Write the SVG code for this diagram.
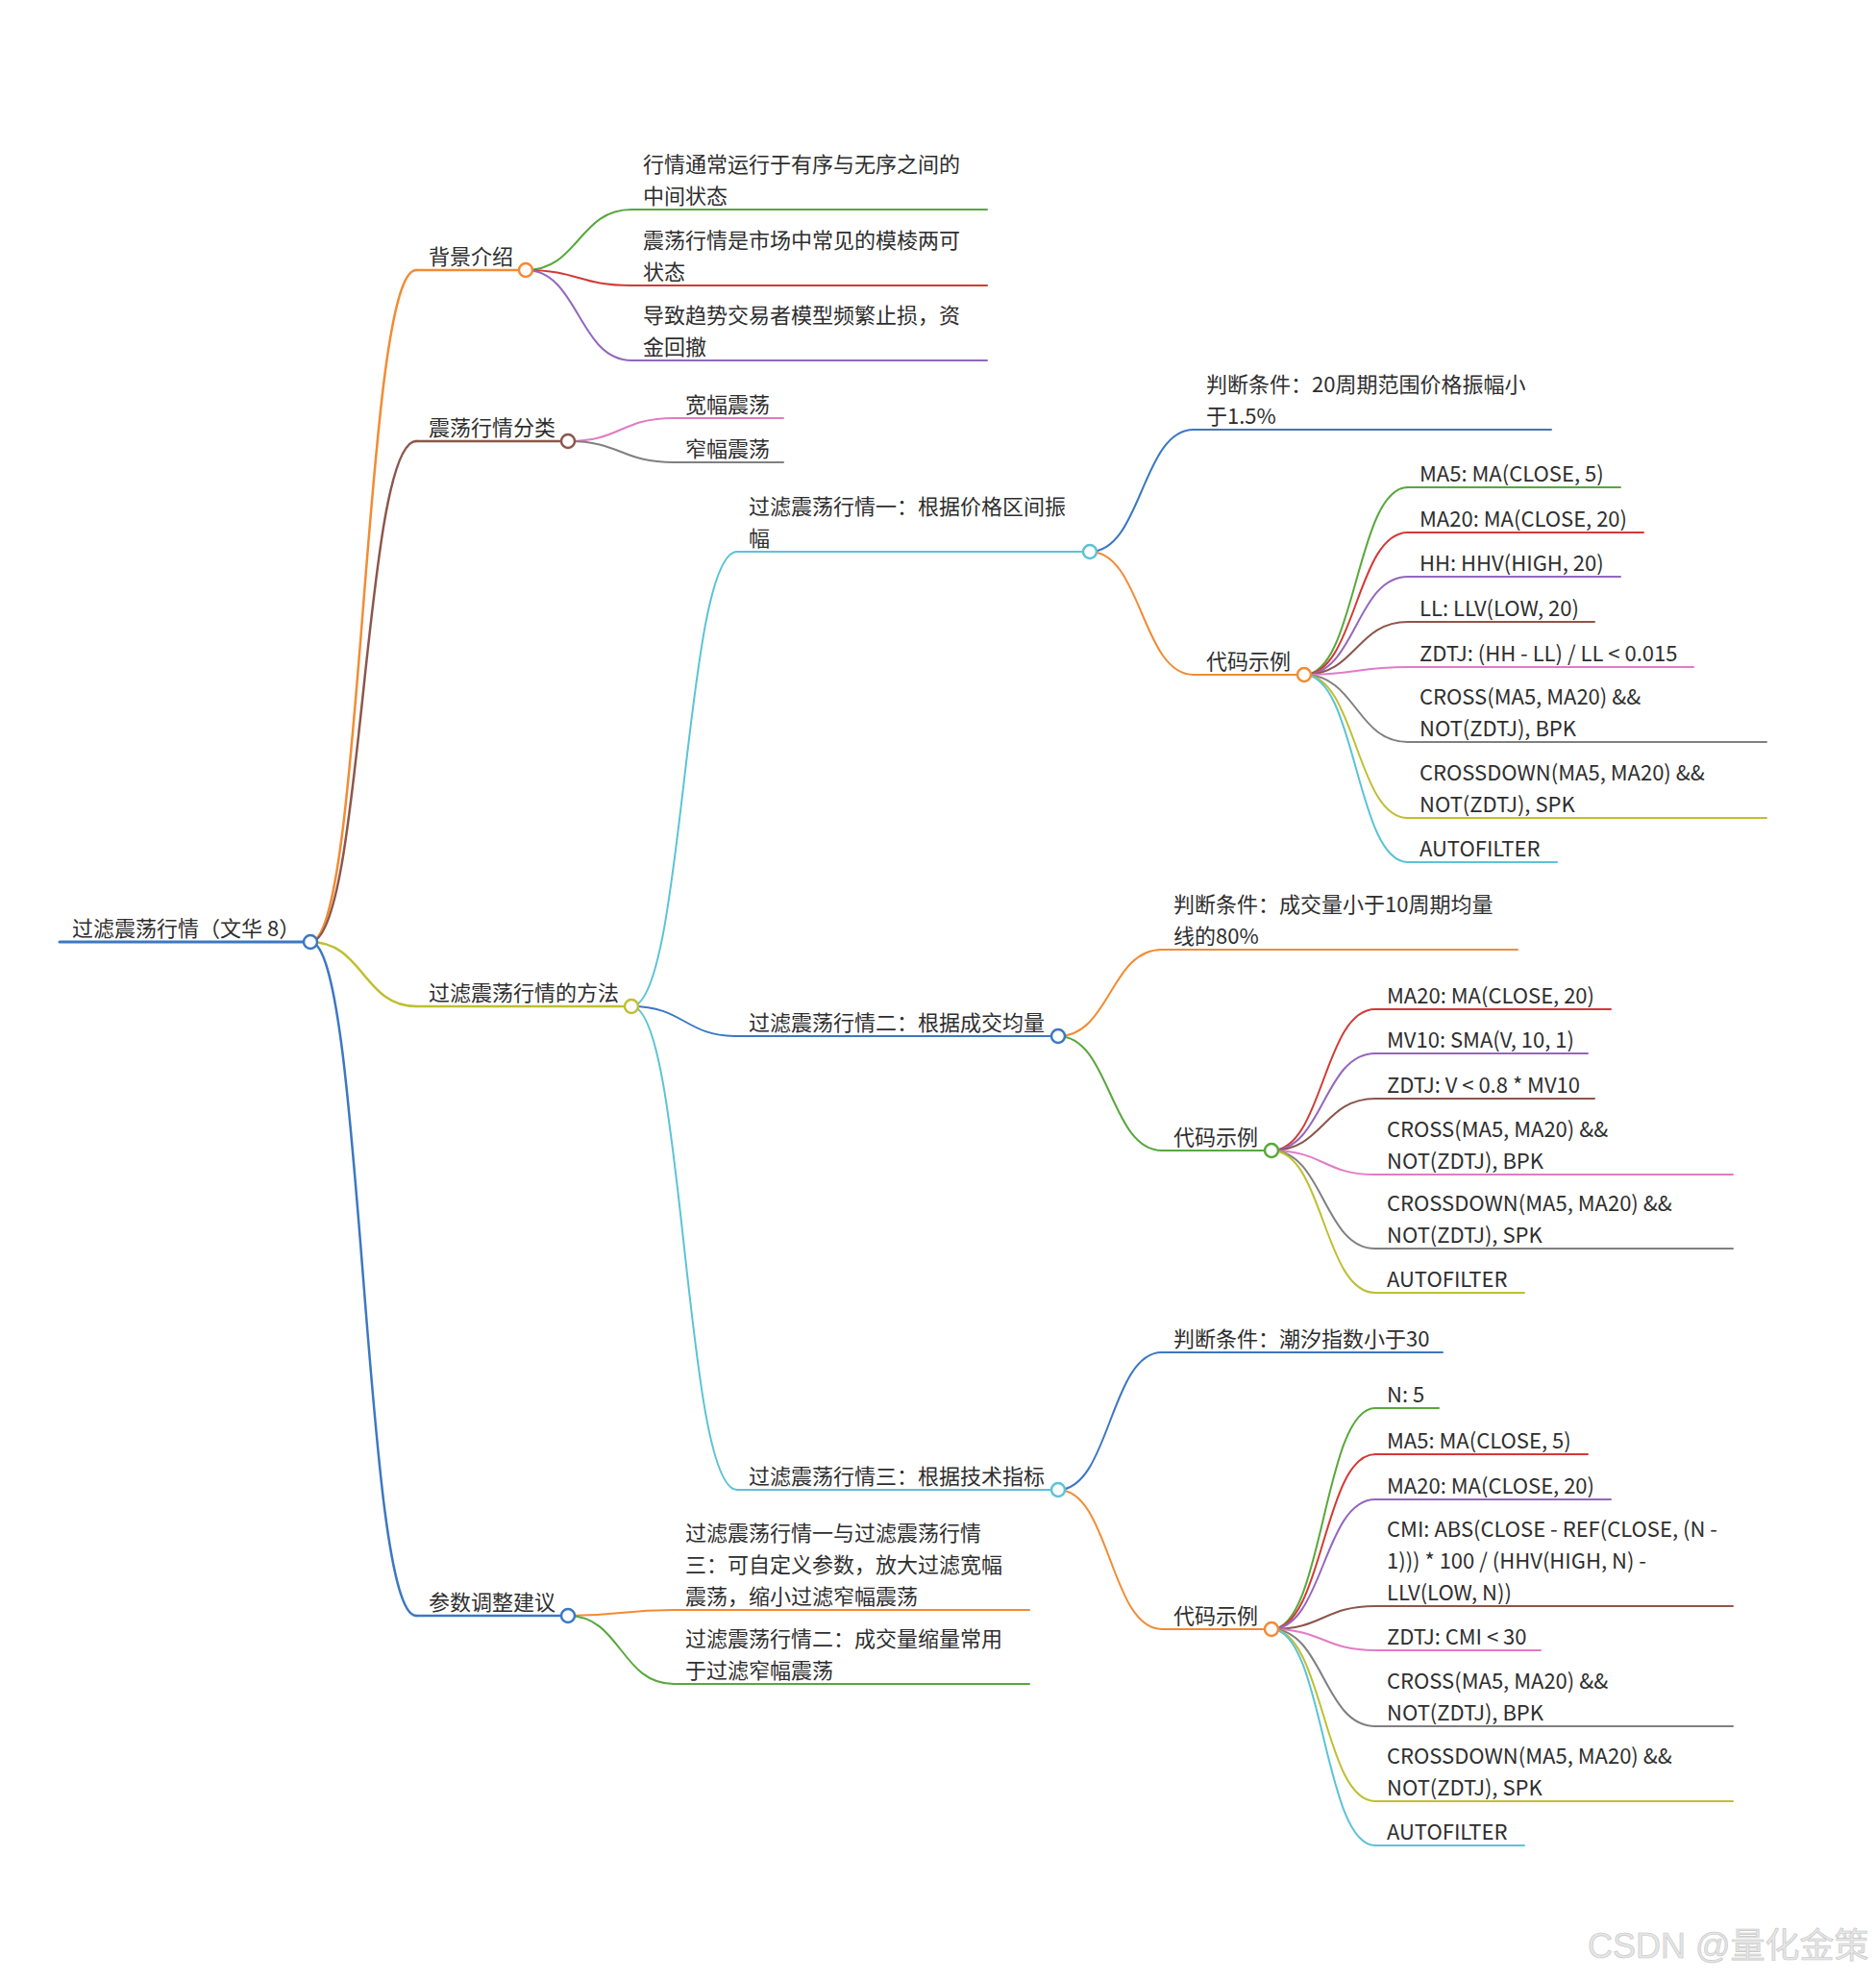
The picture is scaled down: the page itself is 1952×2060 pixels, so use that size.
<svg xmlns="http://www.w3.org/2000/svg" width="1952" height="2060" viewBox="0 0 1952 2060">
<style>
.t{font-family:"Noto Sans CJK SC","Noto Sans",sans-serif;font-size:22px;fill:#2e2e2e}
.u,.l{fill:none;stroke-width:2;stroke-linecap:round}
.l1{stroke-width:2.5}
.dot{fill:#fff;stroke-width:2.5}
.blue{stroke:#3b78c2}.orange{stroke:#f38b32}.green{stroke:#58a83c}.red{stroke:#d33a36}.purple{stroke:#9467bd}
.brown{stroke:#8c564b}.pink{stroke:#e07cc6}.gray{stroke:#808080}.olive{stroke:#bfbf32}.cyan{stroke:#5bc3d6}
.wm{font-family:"Liberation Sans","Noto Sans CJK SC",sans-serif;font-size:36px;fill:#e6e6e6;stroke:#c4c4c4;stroke-width:0.6}
</style>
<rect width="1952" height="2060" fill="#fff"/>
<g id="connectors">
<path class="l l1 orange" d="M323 980C378 980 378 281 433 281"/>
<path class="l l1 brown" d="M323 980C378 980 378 459 433 459"/>
<path class="l l1 olive" d="M323 980C378 980 378 1047 433 1047"/>
<path class="l l1 blue" d="M323 980C378 980 378 1681 433 1681"/>
<path class="l green" d="M547 281C602 281 602 218 657 218"/>
<path class="l red" d="M547 281C602 281 602 297 657 297"/>
<path class="l purple" d="M547 281C602 281 602 375 657 375"/>
<path class="l pink" d="M591 459C646 459 646 435 701 435"/>
<path class="l gray" d="M591 459C646 459 646 481 701 481"/>
<path class="l cyan" d="M657 1047C712 1047 712 574 767 574"/>
<path class="l blue" d="M657 1047C712 1047 712 1078 767 1078"/>
<path class="l cyan" d="M657 1047C712 1047 712 1550 767 1550"/>
<path class="l orange" d="M591 1681C646 1681 646 1675 701 1675"/>
<path class="l green" d="M591 1681C646 1681 646 1752 701 1752"/>
<path class="l blue" d="M1134 574C1188 574 1188 447 1242 447"/>
<path class="l orange" d="M1134 574C1188 574 1188 702 1242 702"/>
<path class="l green" d="M1357 702C1411 702 1411 507 1465 507"/>
<path class="l red" d="M1357 702C1411 702 1411 554 1465 554"/>
<path class="l purple" d="M1357 702C1411 702 1411 600 1465 600"/>
<path class="l brown" d="M1357 702C1411 702 1411 647 1465 647"/>
<path class="l pink" d="M1357 702C1411 702 1411 694 1465 694"/>
<path class="l gray" d="M1357 702C1411 702 1411 772 1465 772"/>
<path class="l olive" d="M1357 702C1411 702 1411 851 1465 851"/>
<path class="l cyan" d="M1357 702C1411 702 1411 897 1465 897"/>
<path class="l orange" d="M1101 1078C1155 1078 1155 988 1209 988"/>
<path class="l green" d="M1101 1078C1155 1078 1155 1197 1209 1197"/>
<path class="l red" d="M1323 1197C1377 1197 1377 1050 1431 1050"/>
<path class="l purple" d="M1323 1197C1377 1197 1377 1096 1431 1096"/>
<path class="l brown" d="M1323 1197C1377 1197 1377 1143 1431 1143"/>
<path class="l pink" d="M1323 1197C1377 1197 1377 1222 1431 1222"/>
<path class="l gray" d="M1323 1197C1377 1197 1377 1299 1431 1299"/>
<path class="l olive" d="M1323 1197C1377 1197 1377 1345 1431 1345"/>
<path class="l blue" d="M1101 1550C1155 1550 1155 1407 1209 1407"/>
<path class="l orange" d="M1101 1550C1155 1550 1155 1695 1209 1695"/>
<path class="l green" d="M1323 1695C1377 1695 1377 1465 1431 1465"/>
<path class="l red" d="M1323 1695C1377 1695 1377 1513 1431 1513"/>
<path class="l purple" d="M1323 1695C1377 1695 1377 1560 1431 1560"/>
<path class="l brown" d="M1323 1695C1377 1695 1377 1671 1431 1671"/>
<path class="l pink" d="M1323 1695C1377 1695 1377 1717 1431 1717"/>
<path class="l gray" d="M1323 1695C1377 1695 1377 1796 1431 1796"/>
<path class="l olive" d="M1323 1695C1377 1695 1377 1874 1431 1874"/>
<path class="l cyan" d="M1323 1695C1377 1695 1377 1920 1431 1920"/>
</g>

<g id="root"><path class="u blue" style="stroke-width:3" d="M62 980H323"/><text class="t" x="75" y="974">过滤震荡行情（文华 8）</text><circle class="dot blue" cx="323" cy="980" r="7"/></g>

<g id="n-bg"><path class="u l1 orange" d="M433 281H547"/><text class="t" x="446" y="275">背景介绍</text><circle class="dot orange" cx="547" cy="281" r="7"/></g>
<g id="n-bg1"><path class="u green" d="M657 218H1027"/><text class="t" x="669" y="179">行情通常运行于有序与无序之间的<tspan x="669" dy="33">中间状态</tspan></text></g>
<g id="n-bg2"><path class="u red" d="M657 297H1027"/><text class="t" x="669" y="258">震荡行情是市场中常见的模棱两可<tspan x="669" dy="33">状态</tspan></text></g>
<g id="n-bg3"><path class="u purple" d="M657 375H1027"/><text class="t" x="669" y="336">导致趋势交易者模型频繁止损，资<tspan x="669" dy="33">金回撤</tspan></text></g>

<g id="n-fl"><path class="u l1 brown" d="M433 459H591"/><text class="t" x="446" y="453">震荡行情分类</text><circle class="dot brown" cx="591" cy="459" r="7"/></g>
<g id="n-fl1"><path class="u pink" d="M701 435H815"/><text class="t" x="713" y="429">宽幅震荡</text></g>
<g id="n-fl2"><path class="u gray" d="M701 481H815"/><text class="t" x="713" y="475">窄幅震荡</text></g>

<g id="n-ff"><path class="u l1 olive" d="M433 1047H657"/><text class="t" x="446" y="1041">过滤震荡行情的方法</text><circle class="dot olive" cx="657" cy="1047" r="7"/></g>

<g id="n-m1"><path class="u cyan" d="M767 574H1134"/><text class="t" x="779" y="535">过滤震荡行情一：根据价格区间振<tspan x="779" dy="33">幅</tspan></text><circle class="dot cyan" cx="1134" cy="574" r="7"/></g>
<g id="n-m1a"><path class="u blue" d="M1242 447H1614"/><text class="t" x="1255" y="408">判断条件：20周期范围价格振幅小<tspan x="1255" dy="33">于1.5%</tspan></text></g>
<g id="n-m1b"><path class="u orange" d="M1242 702H1357"/><text class="t" x="1255" y="696">代码示例</text><circle class="dot orange" cx="1357" cy="702" r="7"/></g>
<g id="n-m1b1"><path class="u green" d="M1465 507H1686"/><text class="t" x="1477" y="501">MA5: MA(CLOSE, 5)</text></g>
<g id="n-m1b2"><path class="u red" d="M1465 554H1710"/><text class="t" x="1477" y="548">MA20: MA(CLOSE, 20)</text></g>
<g id="n-m1b3"><path class="u purple" d="M1465 600H1686"/><text class="t" x="1477" y="594">HH: HHV(HIGH, 20)</text></g>
<g id="n-m1b4"><path class="u brown" d="M1465 647H1659"/><text class="t" x="1477" y="641">LL: LLV(LOW, 20)</text></g>
<g id="n-m1b5"><path class="u pink" d="M1465 694H1762"/><text class="t" x="1477" y="688">ZDTJ: (HH - LL) / LL &lt; 0.015</text></g>
<g id="n-m1b6"><path class="u gray" d="M1465 772H1838"/><text class="t" x="1477" y="733">CROSS(MA5, MA20) &amp;&amp;<tspan x="1477" dy="33">NOT(ZDTJ), BPK</tspan></text></g>
<g id="n-m1b7"><path class="u olive" d="M1465 851H1838"/><text class="t" x="1477" y="812">CROSSDOWN(MA5, MA20) &amp;&amp;<tspan x="1477" dy="33">NOT(ZDTJ), SPK</tspan></text></g>
<g id="n-m1b8"><path class="u cyan" d="M1465 897H1620"/><text class="t" x="1477" y="891">AUTOFILTER</text></g>

<g id="n-m2"><path class="u blue" d="M767 1078H1101"/><text class="t" x="779" y="1072">过滤震荡行情二：根据成交均量</text><circle class="dot blue" cx="1101" cy="1078" r="7"/></g>
<g id="n-m2a"><path class="u orange" d="M1209 988H1579"/><text class="t" x="1221" y="949">判断条件：成交量小于10周期均量<tspan x="1221" dy="33">线的80%</tspan></text></g>
<g id="n-m2b"><path class="u green" d="M1209 1197H1323"/><text class="t" x="1221" y="1191">代码示例</text><circle class="dot green" cx="1323" cy="1197" r="7"/></g>
<g id="n-m2b1"><path class="u red" d="M1431 1050H1676"/><text class="t" x="1443" y="1044">MA20: MA(CLOSE, 20)</text></g>
<g id="n-m2b2"><path class="u purple" d="M1431 1096H1652"/><text class="t" x="1443" y="1090">MV10: SMA(V, 10, 1)</text></g>
<g id="n-m2b3"><path class="u brown" d="M1431 1143H1659"/><text class="t" x="1443" y="1137">ZDTJ: V &lt; 0.8 * MV10</text></g>
<g id="n-m2b4"><path class="u pink" d="M1431 1222H1803"/><text class="t" x="1443" y="1183">CROSS(MA5, MA20) &amp;&amp;<tspan x="1443" dy="33">NOT(ZDTJ), BPK</tspan></text></g>
<g id="n-m2b5"><path class="u gray" d="M1431 1299H1803"/><text class="t" x="1443" y="1260">CROSSDOWN(MA5, MA20) &amp;&amp;<tspan x="1443" dy="33">NOT(ZDTJ), SPK</tspan></text></g>
<g id="n-m2b6"><path class="u olive" d="M1431 1345H1586"/><text class="t" x="1443" y="1339">AUTOFILTER</text></g>

<g id="n-m3"><path class="u cyan" d="M767 1550H1101"/><text class="t" x="779" y="1544">过滤震荡行情三：根据技术指标</text><circle class="dot cyan" cx="1101" cy="1550" r="7"/></g>
<g id="n-m3a"><path class="u blue" d="M1209 1407H1501"/><text class="t" x="1221" y="1401">判断条件：潮汐指数小于30</text></g>
<g id="n-m3b"><path class="u orange" d="M1209 1695H1323"/><text class="t" x="1221" y="1689">代码示例</text><circle class="dot orange" cx="1323" cy="1695" r="7"/></g>
<g id="n-m3b1"><path class="u green" d="M1431 1465H1497"/><text class="t" x="1443" y="1459">N: 5</text></g>
<g id="n-m3b2"><path class="u red" d="M1431 1513H1652"/><text class="t" x="1443" y="1507">MA5: MA(CLOSE, 5)</text></g>
<g id="n-m3b3"><path class="u purple" d="M1431 1560H1676"/><text class="t" x="1443" y="1554">MA20: MA(CLOSE, 20)</text></g>
<g id="n-m3b4"><path class="u brown" d="M1431 1671H1803"/><text class="t" x="1443" y="1599">CMI: ABS(CLOSE - REF(CLOSE, (N -<tspan x="1443" dy="33">1))) * 100 / (HHV(HIGH, N) -</tspan><tspan x="1443" dy="33">LLV(LOW, N))</tspan></text></g>
<g id="n-m3b5"><path class="u pink" d="M1431 1717H1603"/><text class="t" x="1443" y="1711">ZDTJ: CMI &lt; 30</text></g>
<g id="n-m3b6"><path class="u gray" d="M1431 1796H1803"/><text class="t" x="1443" y="1757">CROSS(MA5, MA20) &amp;&amp;<tspan x="1443" dy="33">NOT(ZDTJ), BPK</tspan></text></g>
<g id="n-m3b7"><path class="u olive" d="M1431 1874H1803"/><text class="t" x="1443" y="1835">CROSSDOWN(MA5, MA20) &amp;&amp;<tspan x="1443" dy="33">NOT(ZDTJ), SPK</tspan></text></g>
<g id="n-m3b8"><path class="u cyan" d="M1431 1920H1586"/><text class="t" x="1443" y="1914">AUTOFILTER</text></g>

<g id="n-cs"><path class="u l1 blue" d="M433 1681H591"/><text class="t" x="446" y="1675">参数调整建议</text><circle class="dot blue" cx="591" cy="1681" r="7"/></g>
<g id="n-cs1"><path class="u orange" d="M701 1675H1071"/><text class="t" x="713" y="1603">过滤震荡行情一与过滤震荡行情<tspan x="713" dy="33">三：可自定义参数，放大过滤宽幅</tspan><tspan x="713" dy="33">震荡，缩小过滤窄幅震荡</tspan></text></g>
<g id="n-cs2"><path class="u green" d="M701 1752H1071"/><text class="t" x="713" y="1713">过滤震荡行情二：成交量缩量常用<tspan x="713" dy="33">于过滤窄幅震荡</tspan></text></g>

<text class="wm" x="1652" y="2037">CSDN @量化金策</text>
</svg>
